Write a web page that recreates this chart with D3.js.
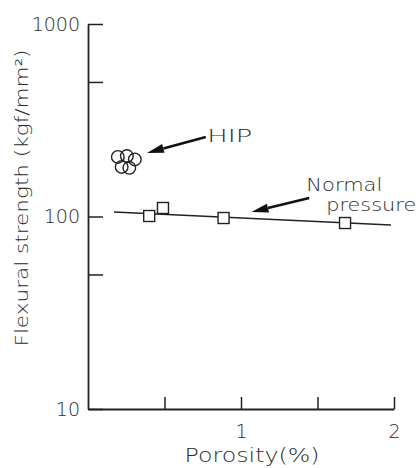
<!DOCTYPE html>
<html>
<head>
<meta charset="utf-8">
<script src="https://cdn.jsdelivr.net/npm/d3@7"></script>
<style>
  body { margin: 0; background: #fff; }
  text { font-family: "DejaVu Sans", sans-serif; font-weight: 300; fill: #2a2a2a; }
</style>
</head>
<body>
<div id="wrapper"></div>
<script>
// normal pressure sintered samples
const porosityNormal = [0.40, 0.49, 0.886, 1.68];
const strengthNormal = [100.6, 110.7, 98.2, 92.5];
// HIP samples
const porosityHIP = [0.195, 0.254, 0.306, 0.22, 0.27];
const strengthHIP = [204, 206, 198, 181, 179];
// trend line through normal pressure points
const fitPorosity = [0.17, 1.98];
const fitStrength = [105.5, 90.3];

const yTicks = [10, 50, 100, 500, 1000];
const yLabels = {10: "10", 100: "100", 1000: "1000"};
const xTicks = [0.5, 1, 1.5, 2];
const xLabels = {1: "1", 2: "2"};

// annotation text and arrows (data coordinates)
const notes = [
    {text: "HIP", x: 0.78, y: 244, len: 45},
    {text: "Normal", x: 1.427, y: 136, len: 76},
    {text: "pressure", x: 1.557, y: 107, len: 90}
];
const arrows = [
    {x1: 0.77, y1: 259, x2: 0.385, y2: 214},
    {x1: 1.446, y1: 124.8, x2: 1.068, y2: 105.5}
];

var dimension = {
    width: 420,
    height: 468,
    margin: {top: 24, right: 26, bottom: 59, left: 88}
};
dimension.boundedWidth = dimension.width - dimension.margin.left - dimension.margin.right;
dimension.boundedHeight = dimension.height - dimension.margin.top - dimension.margin.bottom;

const svg = d3.select("#wrapper")
    .append("svg")
    .attr("width", dimension.width)
    .attr("height", dimension.height);

const bounds = svg.append("g")
    .attr("transform", `translate(${dimension.margin.left},${dimension.margin.top})`);

const x = d3.scaleLinear().domain([0, 2]).range([0, dimension.boundedWidth]);
const y = d3.scaleLog().domain([10, 1000]).range([dimension.boundedHeight, 0]);

// axes, ticks pointing inward
const yAxis = bounds.append("g")
    .call(d3.axisLeft(y)
        .tickValues(yTicks)
        .tickSizeInner(-15)
        .tickSizeOuter(0)
        .tickPadding(8)
        .tickFormat(d => yLabels[d] || ""));

const xAxis = bounds.append("g")
    .attr("transform", `translate(0,${dimension.boundedHeight})`)
    .call(d3.axisBottom(x)
        .tickValues(xTicks)
        .tickSizeInner(-12)
        .tickSizeOuter(0)
        .tickPadding(16)
        .tickFormat(d => xLabels[d] || ""));

[xAxis, yAxis].forEach(a => {
    a.select(".domain").attr("stroke", "#222").attr("stroke-width", 1.8);
    a.selectAll(".tick line").attr("stroke", "#222").attr("stroke-width", 1.5);
    a.selectAll("text")
        .style("font-family", "DejaVu Sans, sans-serif")
        .style("font-weight", "300")
        .style("font-size", "19px")
        .attr("fill", "#2a2a2a");
});

// axis titles
svg.append("text")
    .attr("transform", "translate(28,198) rotate(-90)")
    .attr("text-anchor", "middle")
    .attr("textLength", 297)
    .attr("lengthAdjust", "spacingAndGlyphs")
    .style("font-size", "17px")
    .text("Flexural strength (kgf/mm²)");

svg.append("text")
    .attr("x", 252)
    .attr("y", 462)
    .attr("text-anchor", "middle")
    .attr("textLength", 135)
    .attr("lengthAdjust", "spacingAndGlyphs")
    .style("font-size", "20px")
    .text("Porosity(%)");

// trend line
const line = d3.line().x(d => x(d[0])).y(d => y(d[1]));
bounds.append("path")
    .datum(d3.zip(fitPorosity, fitStrength))
    .attr("d", line)
    .attr("fill", "none")
    .attr("stroke", "#222")
    .attr("stroke-width", 1.5);

// normal pressure squares
const sq = 11;
bounds.selectAll(".sq")
    .data(d3.zip(porosityNormal, strengthNormal))
    .enter()
    .append("rect")
    .attr("class", "sq")
    .attr("x", d => x(d[0]) - sq / 2)
    .attr("y", d => y(d[1]) - sq / 2)
    .attr("width", sq)
    .attr("height", sq)
    .attr("fill", "#fff")
    .attr("stroke", "#222")
    .attr("stroke-width", 1.4);

// HIP circles
bounds.selectAll(".hip")
    .data(d3.zip(porosityHIP, strengthHIP))
    .enter()
    .append("circle")
    .attr("class", "hip")
    .attr("cx", d => x(d[0]))
    .attr("cy", d => y(d[1]))
    .attr("r", 6.3)
    .attr("fill", "none")
    .attr("stroke", "#222")
    .attr("stroke-width", 1.4);

// annotations
bounds.selectAll(".note")
    .data(notes)
    .enter()
    .append("text")
    .attr("class", "note")
    .attr("x", d => x(d.x))
    .attr("y", d => y(d.y))
    .attr("textLength", d => d.len)
    .attr("lengthAdjust", "spacingAndGlyphs")
    .style("font-size", "17px")
    .text(d => d.text);

arrows.forEach(a => {
    const x1 = x(a.x1), y1 = y(a.y1), x2 = x(a.x2), y2 = y(a.y2);
    const dx = x2 - x1, dy = y2 - y1;
    const L = Math.sqrt(dx * dx + dy * dy);
    const ux = dx / L, uy = dy / L;
    const head = 17, half = 4.5;
    const bx = x2 - ux * head, by = y2 - uy * head;
    bounds.append("line")
        .attr("x1", x1).attr("y1", y1)
        .attr("x2", bx).attr("y2", by)
        .attr("stroke", "#111")
        .attr("stroke-width", 2.6);
    bounds.append("polygon")
        .attr("points", [
            [x2, y2],
            [bx - uy * half, by + ux * half],
            [bx + uy * half, by - ux * half]
        ].map(p => p.join(",")).join(" "))
        .attr("fill", "#111");
});
</script>
</body>
</html>
